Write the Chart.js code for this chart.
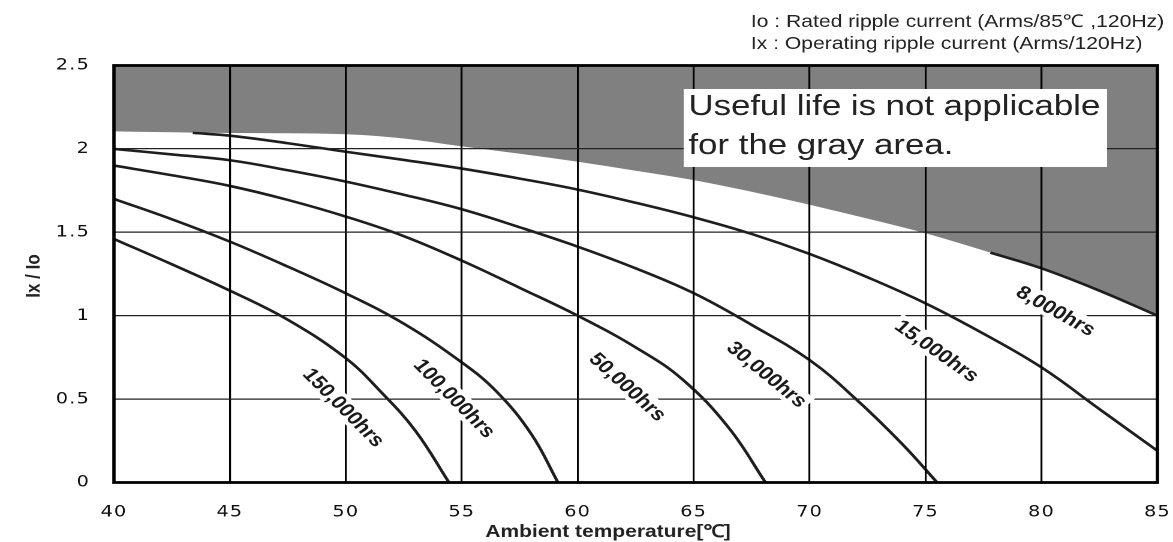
<!DOCTYPE html>
<html>
<head>
<meta charset="utf-8">
<title>Ix/Io vs ambient temperature</title>
<script src="https://cdn.jsdelivr.net/npm/chart.js@4.4.1/dist/chart.umd.min.js"></script>
<style>
  html, body { margin: 0; padding: 0; background: #fff; overflow: hidden; }
  #wrap { width: 1173px; height: 542px; overflow: hidden; }
  /* drawn narrow, then widened like the printed sheet (wide lettering) */
  #chart { transform: scaleX(1.1994); transform-origin: 0 0; }
</style>
</head>
<body>
<div id="wrap"><canvas id="chart" width="978" height="542"></canvas></div>
<script>
const xTickLabels = ['40', '45', '50', '55', '60', '65', '70', '75', '80', '85'];
const yTickLabels = ['0', '0.5', '1', '1.5', '2', '2.5'];

// upper limit: above this line the gray area
const limitTemp  = [40, 45, 50, 52.5, 55, 57.5, 60, 62.5, 65, 67.5, 70, 72.5, 75, 77.8, 80, 82.5, 85];
const limitRatio = [2.105, 2.095, 2.088, 2.062, 2.015, 1.971, 1.923, 1.869, 1.813, 1.743, 1.665, 1.582, 1.494, 1.378, 1.284, 1.15, 1.0];

const lifeNames = ['8,000hrs', '15,000hrs', '30,000hrs', '50,000hrs', '100,000hrs', '150,000hrs'];

const temp8k  = [77.8, 80, 82.5, 85];
const ratio8k = [1.378, 1.284, 1.15, 1.0];

const temp15k  = [43.4, 45, 47.5, 50, 52.5, 55, 57.5, 60, 62.5, 65, 67.5, 70, 72.5, 75, 77.5, 80, 82.5, 85];
const ratio15k = [2.096, 2.079, 2.034, 1.983, 1.934, 1.882, 1.822, 1.756, 1.677, 1.59, 1.49, 1.37, 1.23, 1.074, 0.892, 0.69, 0.44, 0.19];

const temp30k  = [40, 42.5, 45, 47.5, 50, 52.5, 55, 57.5, 60, 62.5, 65, 67.5, 70, 72, 74, 75.5];
const ratio30k = [2.0, 1.967, 1.932, 1.872, 1.804, 1.725, 1.638, 1.53, 1.414, 1.284, 1.135, 0.945, 0.734, 0.5, 0.23, 0];

const temp50k  = [40, 42.5, 45, 47.5, 50, 52.5, 55, 57.5, 60, 62.5, 64.5, 66.5, 68.1];
const ratio50k = [1.9, 1.842, 1.778, 1.694, 1.594, 1.477, 1.33, 1.167, 1.0, 0.81, 0.62, 0.33, 0];

const temp100k  = [40, 42.5, 45, 47.5, 50, 52.5, 55, 56.5, 58, 59.15];
const ratio100k = [1.7, 1.578, 1.444, 1.294, 1.134, 0.952, 0.72, 0.545, 0.29, 0];

const temp150k  = [40, 42.5, 45, 47.5, 50, 51.5, 53, 54.45];
const ratio150k = [1.46, 1.308, 1.15, 0.975, 0.745, 0.545, 0.31, 0];

// where each life label sits (temperature, Ix/Io) and its slant in degrees
const labelSpots = [
  { t: 80.63, r: 1.03, deg: 33.6 },
  { t: 75.5,  r: 0.79, deg: 40 },
  { t: 68.17, r: 0.649, deg: 44.2 },
  { t: 62.17, r: 0.574, deg: 47.2 },
  { t: 54.7,  r: 0.505, deg: 50.2 },
  { t: 49.92, r: 0.45, deg: 50.2 }
];

const pairs = (xs, ys) => xs.map((x, i) => ({ x: x, y: ys[i] }));

const curve = (xs, ys) => ({
  data: pairs(xs, ys),
  borderColor: '#1e1e1e',
  borderWidth: 2.6,
  pointRadius: 0,
  tension: 0.4,
  fill: false,
  order: 0
});

const SANS = '"Liberation Sans", Arial, Helvetica, sans-serif';

const sheet = {
  id: 'sheet',
  beforeDraw(chart) {
    chart.ctx.letterSpacing = '1px';
  },
  beforeDatasetsDraw(chart) {
    chart.ctx.letterSpacing = '0px';
  },
  afterDraw(chart) {
    const ctx = chart.ctx;
    const a = chart.chartArea;
    const xs = chart.scales.x, ys = chart.scales.y;
    ctx.save();
    ctx.letterSpacing = '0px';

    // frame
    ctx.strokeStyle = '#000';
    ctx.lineWidth = 2.8;
    ctx.strokeRect(a.left, a.top, a.right - a.left, a.bottom - a.top);

    // life labels along the curves
    ctx.font = 'bold 18.5px ' + SANS;
    ctx.textAlign = 'center';
    ctx.textBaseline = 'middle';
    lifeNames.forEach((name, i) => {
      const s = labelSpots[i];
      const w = ctx.measureText(name).width;
      ctx.save();
      ctx.translate(xs.getPixelForValue(s.t), ys.getPixelForValue(s.r));
      ctx.rotate(s.deg * Math.PI / 180);
      ctx.fillStyle = '#fff';
      ctx.fillRect(-w / 2 - 3, -10, w + 6, 20);
      ctx.fillStyle = '#1a1a1a';
      ctx.fillText(name, 0, 1);
      ctx.restore();
    });

    // note box in the gray area
    ctx.fillStyle = '#fff';
    ctx.fillRect(570, 89, 353, 78);
    ctx.fillStyle = '#222';
    ctx.textAlign = 'left';
    ctx.textBaseline = 'alphabetic';
    ctx.font = '29px ' + SANS;
    ctx.fillText('Useful life is not applicable', 574, 115);
    ctx.fillText('for the gray area.', 574, 154);

    // legend notes
    ctx.font = '17.6px ' + SANS;
    ctx.fillText('Io : Rated ripple current (Arms/85\u2103 ,120Hz)', 626, 27);
    ctx.fillText('Ix : Operating ripple current (Arms/120Hz)', 626, 49);

    // axis titles
    ctx.font = 'bold 17.5px ' + SANS;
    ctx.textAlign = 'center';
    ctx.fillText('Ambient temperature[\u2103]', 506.9, 537);

    ctx.font = 'bold 17px ' + SANS;
    ctx.textBaseline = 'middle';
    ctx.translate(28.3, 276);
    ctx.rotate(-Math.PI / 2);
    ctx.fillText('Ix / Io', 0, 0);
    ctx.restore();
  }
};

new Chart(document.getElementById('chart'), {
  type: 'line',
  data: {
    datasets: [
      {
        data: pairs(limitTemp, limitRatio),
        borderWidth: 0,
        borderColor: 'rgba(0,0,0,0)',
        backgroundColor: '#808080',
        pointRadius: 0,
        cubicInterpolationMode: 'monotone',
        fill: 'end',
        order: 1
      },
      curve(temp8k, ratio8k),
      curve(temp15k, ratio15k),
      curve(temp30k, ratio30k),
      curve(temp50k, ratio50k),
      curve(temp100k, ratio100k),
      curve(temp150k, ratio150k)
    ]
  },
  options: {
    responsive: false,
    devicePixelRatio: 2,
    animation: false,
    events: [],
    layout: { padding: { top: 65.5, right: 13, left: 0, bottom: 0 } },
    plugins: { legend: { display: false }, tooltip: { enabled: false } },
    scales: {
      x: {
        type: 'linear',
        min: 40,
        max: 85,
        afterFit: (s) => { s.height = 59.5; s.paddingLeft = 0; s.paddingRight = 0; },
        ticks: {
          stepSize: 5,
          padding: 20,
          color: '#111',
          font: { family: 'DejaVu Sans', size: 16 },
          callback: (v, i) => xTickLabels[i]
        },
        grid: { color: '#000', lineWidth: 1.6, drawTicks: false, z: 1 },
        border: { display: false }
      },
      y: {
        type: 'linear',
        min: 0,
        max: 2.5,
        afterFit: (s) => { s.width = 95; s.paddingTop = 0; s.paddingBottom = 0; },
        ticks: {
          stepSize: 0.5,
          padding: 20,
          color: '#111',
          font: { family: 'DejaVu Sans', size: 16 },
          callback: (v, i) => yTickLabels[i]
        },
        grid: { color: '#222', lineWidth: 1.3, drawTicks: false, z: 1 },
        border: { display: false }
      }
    }
  },
  plugins: [sheet]
});
</script>
</body>
</html>
